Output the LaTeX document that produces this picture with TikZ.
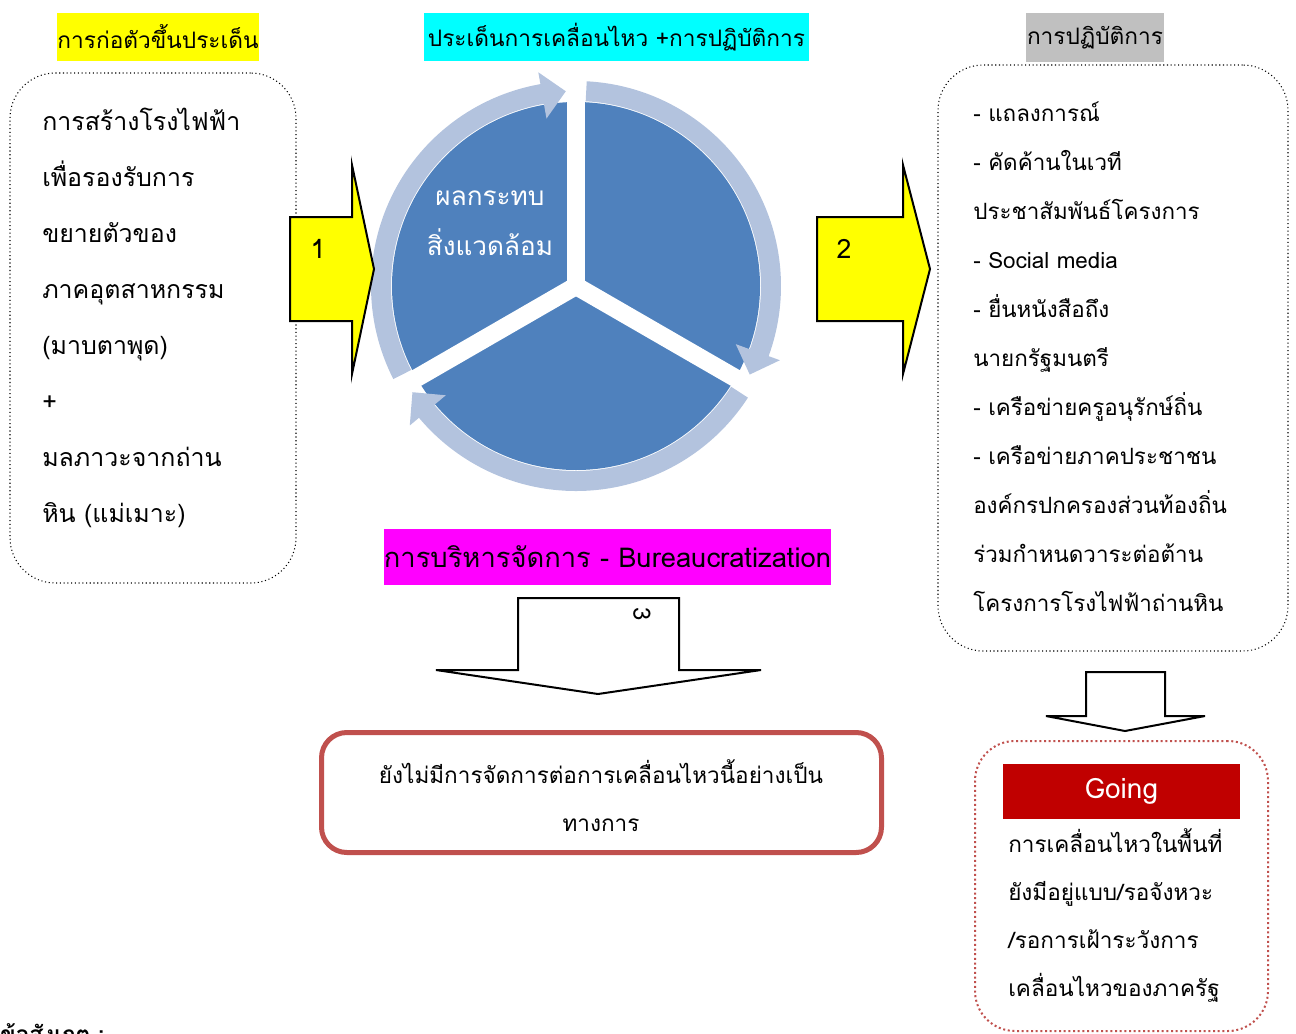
\documentclass[tikz,border=0pt]{standalone}
\usepackage{fontspec}
\setmainfont[Script=Thai]{Loma}
\usetikzlibrary{positioning}
\definecolor{pieblue}{HTML}{4F81BD}
\definecolor{ringblue}{HTML}{B3C3DE}
\definecolor{boxred}{HTML}{C0504D}
\definecolor{goingred}{HTML}{C00000}
\definecolor{titleyellow}{HTML}{FFFF00}
\definecolor{titlecyan}{HTML}{00FFFF}
\definecolor{titlegray}{HTML}{C0C0C0}
\definecolor{titlemagenta}{HTML}{FF00FF}

\begin{document}
\begin{tikzpicture}[
  x=0.75pt, y=-0.75pt,
  title/.style={inner sep=0pt, font=\fontsize{17}{22}\selectfont},
  dotbox/.style={draw, dotted, line width=0.8pt, rounded corners=34pt, inner sep=0pt},
  body/.style={inner sep=0pt, align=left, anchor=west},
  blockarrow/.style={draw, line width=1.5pt, line join=miter},
  ring/.style={fill=ringblue},
  cut/.style={white, line width=13.5pt},
]
\useasboundingbox (0,0) rectangle (1296,1033);

% Titles
\node[title, fill=titleyellow, minimum width=151.5pt, minimum height=36pt] (tstart) at (158,37) {การก่อตัวขึ้นประเด็น};
\node[title, fill=titlecyan, minimum width=288.75pt, minimum height=36pt] (tmove) at (616.5,37) {ประเด็นการเคลื่อนไหว +การปฏิบัติการ};
\node[title, fill=titlegray, minimum width=103.5pt, minimum height=36.75pt] (tact) at (1095,37.5) {การปฏิบัติการ};
\node[title, fill=titlemagenta, minimum width=335.25pt, minimum height=42pt, font=\fontsize{20.5}{24}\selectfont] (tbureau) at (607.5,557) {การบริหารจัดการ - Bureaucratization};

% Boxes
\node[dotbox, minimum width=214.5pt, minimum height=382.5pt] (cause) at (153,328) {};
\node[dotbox, minimum width=262.5pt, minimum height=439.5pt] (action) at (1113,358) {};
\node[draw=boxred, line width=3.75pt, rounded corners=19pt, minimum width=420pt, minimum height=90pt] (formal) at (601.5,792.5) {};
\node[dotbox, draw=boxred, line width=1.5pt, rounded corners=30pt, minimum width=219.75pt, minimum height=217.5pt] (going) at (1121.5,886) {};
\node[fill=goingred, text=white, minimum width=177.75pt, minimum height=41.25pt, font=\fontsize{21}{24}\selectfont] (goinglbl) at (1121.5,791.5) {Going};

% Texts
\node[body, font=\fontsize{18.7}{42}\selectfont] (causetxt) at (42,318) {การสร้างโรงไฟฟ้า\\เพื่อรองรับการ\\ขยายตัวของ\\ภาคอุตสาหกรรม\\(มาบตาพุด)\\+\\มลภาวะจากถ่าน\\หิน (แม่เมาะ)};
\node[body, font=\fontsize{16.8}{36.75}\selectfont] (actiontxt) at (973,356.5) {- แถลงการณ์\\- คัดค้านในเวที\\ประชาสัมพันธ์โครงการ\\- Social media\\- ยื่นหนังสือถึง\\นายกรัฐมนตรี\\- เครือข่ายครูอนุรักษ์ถิ่น\\- เครือข่ายภาคประชาชน\\องค์กรปกครองส่วนท้องถิ่น\\ร่วมกำหนดวาระต่อต้าน\\โครงการโรงไฟฟ้าถ่านหิน};
\node[inner sep=0pt, align=center, font=\fontsize{16.9}{36}\selectfont] (formaltxt) at (601,796) {ยังไม่มีการจัดการต่อการเคลื่อนไหวนี้อย่างเป็น\\ทางการ};
\node[body, font=\fontsize{16.9}{36.2}\selectfont] (goingtxt) at (1008,915.5) {การเคลื่อนไหวในพื้นที่\\ยังมีอยู่แบบ/รอจังหวะ\\/รอการเฝ้าระวังการ\\เคลื่อนไหวของภาครัฐ};
\node[anchor=base west, inner sep=0pt, font=\bfseries\fontsize{17}{22}\selectfont] (note) at (0,1042) {ข้อสังเกต :};

% Cycle
\begin{scope}[shift={(576,286)}, y=0.75pt]
  \fill[pieblue] (0,0) circle[radius=184];
  \foreach \a/\h/\t in {207/100/93, 87/-20/-27, -33/-140/-147}
    \fill[ring] (\a:205) arc[start angle=\a, end angle=\h, radius=205]
      -- (\h:217) -- (\t:195) -- (\h:170) -- (\h:185)
      arc[start angle=\h, end angle=\a, radius=185] -- cycle;
  \foreach \g in {90, -30, 210}
    \draw[cut] (0,0) -- (\g:222);
\end{scope}
\node[align=center, text=white, inner sep=0pt, font=\fontsize{19.6}{37.5}\selectfont] (impact) at (490,223) {ผลกระทบ\\สิ่งแวดล้อม};

% Arrows
\draw[blockarrow, fill=titleyellow] (290,217) -- (352,217) -- (352,165) -- (374,269) -- (352,374) -- (352,321) -- (290,321) -- cycle;
\node[font=\fontsize{20}{24}\selectfont] (one) at (318,249) {1};
\draw[blockarrow, fill=titleyellow] (817,217) -- (903,217) -- (903,165) -- (930,269) -- (903,374) -- (903,321) -- (817,321) -- cycle;
\node[font=\fontsize{20}{24}\selectfont] (two) at (844,249) {2};
\draw[blockarrow, fill=white] (518,598) -- (679,598) -- (679,670) -- (761,670) -- (598,694) -- (436,670) -- (518,670) -- cycle;
\node[rotate=-90, font=\fontsize{18}{22}\selectfont] (three) at (642,614) {3};
\draw[blockarrow, fill=white] (1086,672) -- (1165,672) -- (1165,716) -- (1205,716) -- (1125,731) -- (1046,716) -- (1086,716) -- cycle;

\end{tikzpicture}
\end{document}
